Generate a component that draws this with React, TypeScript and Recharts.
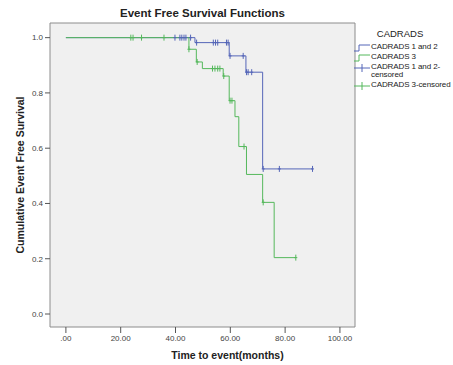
import React from 'react';
import {
  CartesianGrid,
  ComposedChart,
  Line,
  ReferenceArea,
  Scatter,
  XAxis,
  YAxis,
} from 'recharts';

// Kaplan-Meier steps (time in months, survival after the step)
const blueTimes = [0, 47.1, 59.6, 65.7, 71.8, 90.0];
const blueSurv = [1.0, 0.982, 0.934, 0.875, 0.525, 0.525];
const greenTimes = [0, 44.9, 47.6, 49.8, 57.4, 59.6, 61.7, 63.1, 65.9, 71.8, 76.0, 83.9];
const greenSurv = [1.0, 0.958, 0.912, 0.888, 0.861, 0.772, 0.714, 0.606, 0.505, 0.404, 0.204, 0.204];

// censored cases
const blueCensorTimes = [39.8, 41.6, 42.3, 43.1, 43.8, 45.5, 47.7, 53.8, 54.6, 55.4, 58.6, 59.2, 59.9, 64.7, 65.9, 66.5, 67.8, 72.0, 77.9, 90.0];
const blueCensorSurv = [1, 1, 1, 1, 1, 1, 0.982, 0.982, 0.982, 0.982, 0.982, 0.982, 0.934, 0.934, 0.875, 0.875, 0.875, 0.525, 0.525, 0.525];
const greenCensorTimes = [23.7, 24.5, 27.6, 35.8, 44.9, 47.9, 53.5, 54.4, 55.4, 56.2, 57.6, 59.9, 60.6, 65.0, 72.0, 83.9];
const greenCensorSurv = [1, 1, 1, 1, 0.958, 0.912, 0.888, 0.888, 0.888, 0.888, 0.861, 0.772, 0.772, 0.606, 0.404, 0.204];

const timeTicks = [0, 20, 40, 60, 80, 100];
const survTicks = [0, 0.2, 0.4, 0.6, 0.8, 1.0];

const BLUE = '#5566b8';
const GREEN = '#55b85c';
const FONT = '"Liberation Sans", Arial, sans-serif';

const zip = (t: number[], s: number[]) => t.map((v, i) => ({ t: v, s: s[i] }));
const blueData = zip(blueTimes, blueSurv);
const greenData = zip(greenTimes, greenSurv);
const blueCensor = zip(blueCensorTimes, blueCensorSurv);
const greenCensor = zip(greenCensorTimes, greenCensorSurv);

const X_DOMAIN: [number, number] = [-5.8, 105.5];
const Y_DOMAIN: [number, number] = [-0.047, 1.053];

const plus = (color: string) => (props: any) => {
  const { cx, cy } = props;
  return (
    <g stroke={color} strokeWidth={1}>
      <line x1={cx} y1={cy - 3} x2={cx} y2={cy + 3} />
      <line x1={cx - 1.5} y1={cy} x2={cx + 1.5} y2={cy} />
    </g>
  );
};

function StepIcon({ color }: { color: string }) {
  return (
    <svg width={16} height={8} style={{ position: 'absolute', left: -17, top: 1 }}>
      <polyline points="0,7 5,7 5,1 16,1" fill="none" stroke={color} strokeWidth={1} />
    </svg>
  );
}

function CensorIcon({ color }: { color: string }) {
  return (
    <svg width={16} height={8} style={{ position: 'absolute', left: -17, top: 1 }}>
      <line x1={0} y1={4} x2={16} y2={4} stroke={color} />
      <line x1={8} y1={0} x2={8} y2={8} stroke={color} />
    </svg>
  );
}

export default function App() {
  const item: React.CSSProperties = { position: 'absolute', left: 0, fontSize: 8, lineHeight: '8px', color: '#222', whiteSpace: 'nowrap', letterSpacing: -0.1 };
  return (
    <div style={{ position: 'absolute', left: 0, top: 0, width: 453, height: 365, background: '#fff', fontFamily: FONT }}>
      <div style={{ position: 'absolute', left: 50, width: 305, top: 7, textAlign: 'center', fontSize: 11.5, fontWeight: 'bold', color: '#222' }}>
        Event Free Survival Functions
      </div>
      <ComposedChart width={453} height={365} margin={{ top: 23, right: 98, bottom: 0, left: 0 }}>
        <CartesianGrid fill="#f0f0f0" horizontal={false} vertical={false} />
        <XAxis
          type="number"
          dataKey="t"
          domain={X_DOMAIN}
          ticks={timeTicks}
          allowDataOverflow
          height={38}
          axisLine={false}
          tickSize={6}
          tickMargin={2}
          tick={{ fontSize: 8, fill: '#444', fontFamily: FONT }}
          tickLine={{ stroke: '#555' }}
          tickFormatter={(v: number) => (v === 0 ? '.00' : v.toFixed(2))}
        />
        <YAxis
          type="number"
          dataKey="s"
          domain={Y_DOMAIN}
          ticks={survTicks}
          allowDataOverflow
          width={50}
          axisLine={false}
          tickSize={5}
          tickMargin={2}
          tick={{ fontSize: 8, fill: '#444', fontFamily: FONT }}
          tickLine={{ stroke: '#555' }}
          tickFormatter={(v: number) => v.toFixed(1)}
        />
        <Line data={blueData} dataKey="s" type="stepAfter" stroke={BLUE} strokeWidth={1} dot={false} isAnimationActive={false} />
        <Line data={greenData} dataKey="s" type="stepAfter" stroke={GREEN} strokeWidth={1} dot={false} isAnimationActive={false} />
        <Scatter data={blueCensor} dataKey="s" shape={plus(BLUE)} isAnimationActive={false} />
        <Scatter data={greenCensor} dataKey="s" shape={plus(GREEN)} isAnimationActive={false} />
        <ReferenceArea x1={X_DOMAIN[0]} x2={X_DOMAIN[1]} y1={Y_DOMAIN[0]} y2={Y_DOMAIN[1]} fill="none" stroke="#8c8c8c" />
      </ComposedChart>
      <div
        style={{
          position: 'absolute',
          left: 20,
          top: 175,
          transform: 'translate(-50%, -50%) rotate(-90deg)',
          fontSize: 10.5,
          fontWeight: 'bold',
          color: '#222',
          whiteSpace: 'nowrap',
        }}
      >
        Cumulative Event Free Survival
      </div>
      <div style={{ position: 'absolute', left: 50, width: 355, top: 349, textAlign: 'center', fontSize: 10.5, fontWeight: 'bold', color: '#222' }}>
        Time to event(months)
      </div>
      <div style={{ position: 'absolute', left: 371, top: 28, width: 82, height: 70 }}>
        <div style={{ position: 'absolute', left: 0, width: 58, top: 0, textAlign: 'center', fontSize: 9.5, color: '#222' }}>CADRADS</div>
        <div style={{ ...item, top: 15 }}><StepIcon color={BLUE} />CADRADS 1 and 2</div>
        <div style={{ ...item, top: 25 }}><StepIcon color={GREEN} />CADRADS 3</div>
        <div style={{ ...item, top: 35 }}><CensorIcon color={BLUE} />CADRADS 1 and 2-<br />censored</div>
        <div style={{ ...item, top: 53 }}><CensorIcon color={GREEN} />CADRADS 3-censored</div>
      </div>
    </div>
  );
}
